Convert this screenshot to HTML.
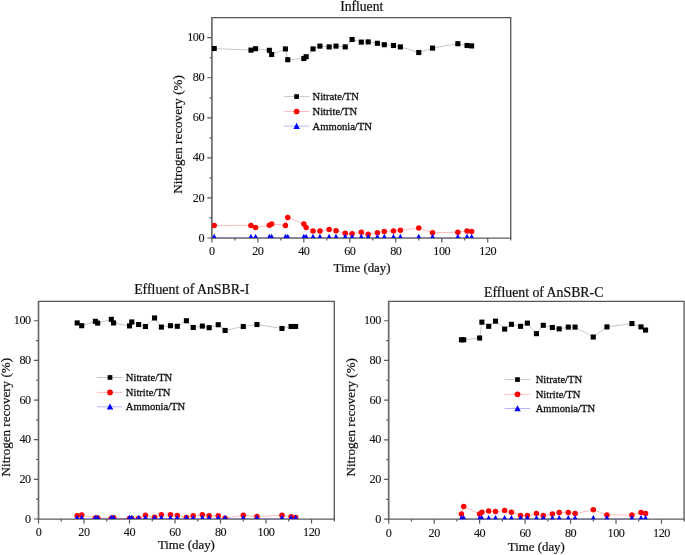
<!DOCTYPE html>
<html><head><meta charset="utf-8"><title>Nitrogen recovery</title>
<style>
html,body{margin:0;padding:0;background:#fff;}
body{width:685px;height:555px;overflow:hidden;font-family:"Liberation Serif",serif;}
svg{display:block;filter:blur(0.3px);}
text{font-variant-ligatures:none;font-family:"Liberation Serif",serif;fill:#111;stroke:#111;stroke-width:0.22px;}
.tk{font-size:12.2px;letter-spacing:-0.45px;stroke-width:0.12px;}
.ti{font-size:13.6px;}
.lb{font-size:13.1px;}
.lg{font-size:10.6px;stroke-width:0.3px;}
</style></head><body>
<svg width="685" height="555" viewBox="0 0 685 555">
<defs><clipPath id="c0"><rect x="211.9" y="17.6" width="298.8" height="220.4"/></clipPath><clipPath id="c1"><rect x="38.5" y="301.4" width="295.8" height="217.6"/></clipPath><clipPath id="c2"><rect x="388.7" y="301.4" width="295.5" height="217.75"/></clipPath></defs>
<rect width="685" height="555" fill="#fff"/>
<g><path d="M211.9 17.6H511.3" fill="none" stroke="#555" stroke-width="1.3"/>
<path d="M510.7 17.6V238" fill="none" stroke="#585858" stroke-width="1.35"/>
<path d="M211.9 17V238.6" fill="none" stroke="#6a6a6a" stroke-width="1.7"/>
<path d="M211.9 238H511.3" fill="none" stroke="#5c5c5c" stroke-width="1.25"/>
<path d="M211.9 238v4.6M234.88 238v2.4M257.87 238v4.6M280.85 238v2.4M303.84 238v4.6M326.82 238v2.4M349.81 238v4.6M372.79 238v2.4M395.78 238v4.6M418.76 238v2.4M441.75 238v4.6M464.73 238v2.4M487.72 238v4.6M510.7 238v2.4M211.9 238h-4.6M211.9 217.97h-2.4M211.9 197.94h-4.6M211.9 177.91h-2.4M211.9 157.88h-4.6M211.9 137.85h-2.4M211.9 117.82h-4.6M211.9 97.79h-2.4M211.9 77.76h-4.6M211.9 57.73h-2.4M211.9 37.7h-4.6" stroke="#585858" stroke-width="1.2" fill="none"/>
<g clip-path="url(#c0)"><polyline points="214.2,48.52 250.97,50.12 255.57,48.72 269.36,50.32 271.66,54.53 285.45,48.92 287.75,59.73 303.84,58.53 306.14,56.73 313.03,48.92 319.93,46.11 329.12,46.91 336.02,46.11 345.21,46.91 352.11,39.5 361.3,42.11 368.2,41.91 377.39,43.31 384.28,44.71 393.48,45.51 400.37,46.91 418.76,52.52 432.55,48.12 457.84,43.71 467.03,45.51 471.63,45.91" fill="none" stroke="#000" stroke-width="0.7" stroke-opacity="0.32"/>
<rect x="211.65" y="45.97" width="5.1" height="5.1"/><rect x="248.42" y="47.57" width="5.1" height="5.1"/><rect x="253.02" y="46.17" width="5.1" height="5.1"/><rect x="266.81" y="47.77" width="5.1" height="5.1"/><rect x="269.11" y="51.98" width="5.1" height="5.1"/><rect x="282.9" y="46.37" width="5.1" height="5.1"/><rect x="285.2" y="57.18" width="5.1" height="5.1"/><rect x="301.29" y="55.98" width="5.1" height="5.1"/><rect x="303.59" y="54.18" width="5.1" height="5.1"/><rect x="310.48" y="46.37" width="5.1" height="5.1"/><rect x="317.38" y="43.56" width="5.1" height="5.1"/><rect x="326.57" y="44.36" width="5.1" height="5.1"/><rect x="333.47" y="43.56" width="5.1" height="5.1"/><rect x="342.66" y="44.36" width="5.1" height="5.1"/><rect x="349.56" y="36.95" width="5.1" height="5.1"/><rect x="358.75" y="39.56" width="5.1" height="5.1"/><rect x="365.65" y="39.36" width="5.1" height="5.1"/><rect x="374.84" y="40.76" width="5.1" height="5.1"/><rect x="381.73" y="42.16" width="5.1" height="5.1"/><rect x="390.93" y="42.96" width="5.1" height="5.1"/><rect x="397.82" y="44.36" width="5.1" height="5.1"/><rect x="416.21" y="49.97" width="5.1" height="5.1"/><rect x="430" y="45.57" width="5.1" height="5.1"/><rect x="455.29" y="41.16" width="5.1" height="5.1"/><rect x="464.48" y="42.96" width="5.1" height="5.1"/><rect x="469.08" y="43.36" width="5.1" height="5.1"/>
<polyline points="214.2,225.58 250.97,225.38 255.57,227.48 269.36,225.18 271.66,223.98 285.45,225.38 287.75,217.57 303.84,223.98 306.14,227.48 313.03,230.99 319.93,230.99 329.12,229.59 336.02,230.79 345.21,233.19 352.11,233.69 361.3,232.29 368.2,234.19 377.39,232.79 384.28,231.39 393.48,230.99 400.37,230.29 418.76,227.99 432.55,232.79 457.84,232.19 467.03,230.99 471.63,231.39" fill="none" stroke="#f00" stroke-width="0.7" stroke-opacity="0.38"/>
<g fill="#f00"><circle cx="214.2" cy="225.58" r="2.75"/><circle cx="250.97" cy="225.38" r="2.75"/><circle cx="255.57" cy="227.48" r="2.75"/><circle cx="269.36" cy="225.18" r="2.75"/><circle cx="271.66" cy="223.98" r="2.75"/><circle cx="285.45" cy="225.38" r="2.75"/><circle cx="287.75" cy="217.57" r="2.75"/><circle cx="303.84" cy="223.98" r="2.75"/><circle cx="306.14" cy="227.48" r="2.75"/><circle cx="313.03" cy="230.99" r="2.75"/><circle cx="319.93" cy="230.99" r="2.75"/><circle cx="329.12" cy="229.59" r="2.75"/><circle cx="336.02" cy="230.79" r="2.75"/><circle cx="345.21" cy="233.19" r="2.75"/><circle cx="352.11" cy="233.69" r="2.75"/><circle cx="361.3" cy="232.29" r="2.75"/><circle cx="368.2" cy="234.19" r="2.75"/><circle cx="377.39" cy="232.79" r="2.75"/><circle cx="384.28" cy="231.39" r="2.75"/><circle cx="393.48" cy="230.99" r="2.75"/><circle cx="400.37" cy="230.29" r="2.75"/><circle cx="418.76" cy="227.99" r="2.75"/><circle cx="432.55" cy="232.79" r="2.75"/><circle cx="457.84" cy="232.19" r="2.75"/><circle cx="467.03" cy="230.99" r="2.75"/><circle cx="471.63" cy="231.39" r="2.75"/></g>
<polyline points="214.2,237.84 250.97,237.84 255.57,237.84 269.36,237.84 271.66,237.84 285.45,237.84 287.75,237.84 303.84,237.84 306.14,237.84 313.03,237.84 319.93,237.84 329.12,237.84 336.02,237.84 345.21,237.84 352.11,237.84 361.3,237.84 368.2,237.84 377.39,237.84 384.28,237.84 393.48,237.84 400.37,237.84 418.76,237.84 432.55,237.84 457.84,237.84 467.03,237.84 471.63,237.84" fill="none" stroke="#00f" stroke-width="0.7" stroke-opacity="0.42"/>
<path fill="#00f" d="M211 239.84h6.4l-3.2 -6zM247.77 239.84h6.4l-3.2 -6zM252.37 239.84h6.4l-3.2 -6zM266.16 239.84h6.4l-3.2 -6zM268.46 239.84h6.4l-3.2 -6zM282.25 239.84h6.4l-3.2 -6zM284.55 239.84h6.4l-3.2 -6zM300.64 239.84h6.4l-3.2 -6zM302.94 239.84h6.4l-3.2 -6zM309.83 239.84h6.4l-3.2 -6zM316.73 239.84h6.4l-3.2 -6zM325.92 239.84h6.4l-3.2 -6zM332.82 239.84h6.4l-3.2 -6zM342.01 239.84h6.4l-3.2 -6zM348.91 239.84h6.4l-3.2 -6zM358.1 239.84h6.4l-3.2 -6zM365 239.84h6.4l-3.2 -6zM374.19 239.84h6.4l-3.2 -6zM381.08 239.84h6.4l-3.2 -6zM390.28 239.84h6.4l-3.2 -6zM397.17 239.84h6.4l-3.2 -6zM415.56 239.84h6.4l-3.2 -6zM429.35 239.84h6.4l-3.2 -6zM454.64 239.84h6.4l-3.2 -6zM463.83 239.84h6.4l-3.2 -6zM468.43 239.84h6.4l-3.2 -6z"/></g>
<text class="tk" x="211.9" y="254.8" text-anchor="middle">0</text>
<text class="tk" x="257.87" y="254.8" text-anchor="middle">20</text>
<text class="tk" x="303.84" y="254.8" text-anchor="middle">40</text>
<text class="tk" x="349.81" y="254.8" text-anchor="middle">60</text>
<text class="tk" x="395.78" y="254.8" text-anchor="middle">80</text>
<text class="tk" x="441.75" y="254.8" text-anchor="middle">100</text>
<text class="tk" x="487.72" y="254.8" text-anchor="middle">120</text>
<text class="tk" x="204.1" y="241.6" text-anchor="end">0</text>
<text class="tk" x="204.1" y="201.54" text-anchor="end">20</text>
<text class="tk" x="204.1" y="161.48" text-anchor="end">40</text>
<text class="tk" x="204.1" y="121.42" text-anchor="end">60</text>
<text class="tk" x="204.1" y="81.36" text-anchor="end">80</text>
<text class="tk" x="204.1" y="41.3" text-anchor="end">100</text>
<text class="ti" style="font-size:13.6px" x="361.7" y="10.7" text-anchor="middle">Influent</text>
<text class="lb" style="font-size:12.85px" x="362" y="271.7" text-anchor="middle">Time (day)</text>
<text class="lb" transform="translate(182.1 134.5) rotate(-90)" text-anchor="middle">Nitrogen recovery (%)</text>
<path d="M283.7 96.6H309.4" stroke="#000" stroke-width="0.7" stroke-opacity="0.32"/>
<rect x="294.25" y="94.25" width="4.7" height="4.7"/>
<text class="lg" x="312.5" y="100.1">Nitrate/TN</text>
<path d="M283.7 111.5H309.4" stroke="#f00" stroke-width="0.7" stroke-opacity="0.38"/>
<circle cx="296.6" cy="111.5" r="2.85" fill="#f00"/>
<text class="lg" x="312.5" y="115">Nitrite/TN</text>
<path d="M283.7 126.1H309.4" stroke="#00f" stroke-width="0.7" stroke-opacity="0.42"/>
<path d="M293.35 128.88h6.5l-3.25 -6.1z" fill="#00f"/>
<text class="lg" x="312.5" y="129.6">Ammonia/TN</text></g>
<g><path d="M38.5 301.4H334.9" fill="none" stroke="#555" stroke-width="1.3"/>
<path d="M334.3 301.4V519" fill="none" stroke="#585858" stroke-width="1.35"/>
<path d="M38.5 300.8V519.6" fill="none" stroke="#6a6a6a" stroke-width="1.7"/>
<path d="M38.5 519H334.9" fill="none" stroke="#5c5c5c" stroke-width="1.25"/>
<path d="M38.5 519v4.6M61.25 519v2.4M84.01 519v4.6M106.76 519v2.4M129.52 519v4.6M152.27 519v2.4M175.02 519v4.6M197.78 519v2.4M220.53 519v4.6M243.28 519v2.4M266.04 519v4.6M288.79 519v2.4M311.55 519v4.6M334.3 519v2.4M38.5 519h-4.6M38.5 499.18h-2.4M38.5 479.35h-4.6M38.5 459.52h-2.4M38.5 439.7h-4.6M38.5 419.88h-2.4M38.5 400.05h-4.6M38.5 380.23h-2.4M38.5 360.4h-4.6M38.5 340.58h-2.4M38.5 320.75h-4.6" stroke="#585858" stroke-width="1.2" fill="none"/>
<g clip-path="url(#c1)"><polyline points="77.18,322.93 81.73,325.71 95.38,321.34 97.66,323.13 111.31,319.36 113.59,322.93 129.52,325.9 131.79,321.94 138.62,324.52 145.44,326.5 154.54,317.97 161.37,327.09 170.47,325.71 177.3,326.3 186.4,320.75 193.23,327.49 202.33,326.1 209.15,327.69 218.26,324.72 225.08,330.46 243.28,326.5 256.94,324.52 281.97,328.48 291.07,326.5 295.62,326.5" fill="none" stroke="#000" stroke-width="0.7" stroke-opacity="0.32"/>
<rect x="74.63" y="320.38" width="5.1" height="5.1"/><rect x="79.18" y="323.16" width="5.1" height="5.1"/><rect x="92.83" y="318.79" width="5.1" height="5.1"/><rect x="95.11" y="320.58" width="5.1" height="5.1"/><rect x="108.76" y="316.81" width="5.1" height="5.1"/><rect x="111.04" y="320.38" width="5.1" height="5.1"/><rect x="126.97" y="323.35" width="5.1" height="5.1"/><rect x="129.24" y="319.39" width="5.1" height="5.1"/><rect x="136.07" y="321.97" width="5.1" height="5.1"/><rect x="142.89" y="323.95" width="5.1" height="5.1"/><rect x="151.99" y="315.42" width="5.1" height="5.1"/><rect x="158.82" y="324.54" width="5.1" height="5.1"/><rect x="167.92" y="323.16" width="5.1" height="5.1"/><rect x="174.75" y="323.75" width="5.1" height="5.1"/><rect x="183.85" y="318.2" width="5.1" height="5.1"/><rect x="190.68" y="324.94" width="5.1" height="5.1"/><rect x="199.78" y="323.55" width="5.1" height="5.1"/><rect x="206.6" y="325.14" width="5.1" height="5.1"/><rect x="215.71" y="322.17" width="5.1" height="5.1"/><rect x="222.53" y="327.91" width="5.1" height="5.1"/><rect x="240.73" y="323.95" width="5.1" height="5.1"/><rect x="254.39" y="321.97" width="5.1" height="5.1"/><rect x="279.42" y="325.93" width="5.1" height="5.1"/><rect x="288.52" y="323.95" width="5.1" height="5.1"/><rect x="293.07" y="323.95" width="5.1" height="5.1"/>
<polyline points="77.18,515.63 81.73,515.03 95.38,518.01 97.66,518.01 111.31,518.21 113.59,517.81 129.52,518.6 131.79,518.6 138.62,518.41 145.44,515.23 154.54,517.22 161.37,514.64 170.47,514.84 177.3,515.43 186.4,517.61 193.23,515.83 202.33,514.64 209.15,515.83 218.26,515.83 225.08,518.21 243.28,515.23 256.94,516.62 281.97,515.23 291.07,516.82 295.62,517.41" fill="none" stroke="#f00" stroke-width="0.7" stroke-opacity="0.38"/>
<g fill="#f00"><circle cx="77.18" cy="515.63" r="2.75"/><circle cx="81.73" cy="515.03" r="2.75"/><circle cx="95.38" cy="518.01" r="2.75"/><circle cx="97.66" cy="518.01" r="2.75"/><circle cx="111.31" cy="518.21" r="2.75"/><circle cx="113.59" cy="517.81" r="2.75"/><circle cx="129.52" cy="518.6" r="2.75"/><circle cx="131.79" cy="518.6" r="2.75"/><circle cx="138.62" cy="518.41" r="2.75"/><circle cx="145.44" cy="515.23" r="2.75"/><circle cx="154.54" cy="517.22" r="2.75"/><circle cx="161.37" cy="514.64" r="2.75"/><circle cx="170.47" cy="514.84" r="2.75"/><circle cx="177.3" cy="515.43" r="2.75"/><circle cx="186.4" cy="517.61" r="2.75"/><circle cx="193.23" cy="515.83" r="2.75"/><circle cx="202.33" cy="514.64" r="2.75"/><circle cx="209.15" cy="515.83" r="2.75"/><circle cx="218.26" cy="515.83" r="2.75"/><circle cx="225.08" cy="518.21" r="2.75"/><circle cx="243.28" cy="515.23" r="2.75"/><circle cx="256.94" cy="516.62" r="2.75"/><circle cx="281.97" cy="515.23" r="2.75"/><circle cx="291.07" cy="516.82" r="2.75"/><circle cx="295.62" cy="517.41" r="2.75"/></g>
<polyline points="77.18,518.84 81.73,518.84 95.38,518.84 97.66,518.84 111.31,518.84 113.59,518.84 129.52,518.84 131.79,518.84 138.62,518.84 145.44,518.84 154.54,518.84 161.37,518.84 170.47,518.84 177.3,518.84 186.4,518.84 193.23,518.84 202.33,518.84 209.15,518.84 218.26,518.84 225.08,518.84 243.28,518.84 256.94,518.84 281.97,518.84 291.07,518.84 295.62,518.84" fill="none" stroke="#00f" stroke-width="0.7" stroke-opacity="0.42"/>
<path fill="#00f" d="M73.98 520.84h6.4l-3.2 -6zM78.53 520.84h6.4l-3.2 -6zM92.18 520.84h6.4l-3.2 -6zM94.46 520.84h6.4l-3.2 -6zM108.11 520.84h6.4l-3.2 -6zM110.39 520.84h6.4l-3.2 -6zM126.32 520.84h6.4l-3.2 -6zM128.59 520.84h6.4l-3.2 -6zM135.42 520.84h6.4l-3.2 -6zM142.24 520.84h6.4l-3.2 -6zM151.34 520.84h6.4l-3.2 -6zM158.17 520.84h6.4l-3.2 -6zM167.27 520.84h6.4l-3.2 -6zM174.1 520.84h6.4l-3.2 -6zM183.2 520.84h6.4l-3.2 -6zM190.03 520.84h6.4l-3.2 -6zM199.13 520.84h6.4l-3.2 -6zM205.95 520.84h6.4l-3.2 -6zM215.06 520.84h6.4l-3.2 -6zM221.88 520.84h6.4l-3.2 -6zM240.08 520.84h6.4l-3.2 -6zM253.74 520.84h6.4l-3.2 -6zM278.77 520.84h6.4l-3.2 -6zM287.87 520.84h6.4l-3.2 -6zM292.42 520.84h6.4l-3.2 -6z"/></g>
<text class="tk" x="38.5" y="536.3" text-anchor="middle">0</text>
<text class="tk" x="84.01" y="536.3" text-anchor="middle">20</text>
<text class="tk" x="129.52" y="536.3" text-anchor="middle">40</text>
<text class="tk" x="175.02" y="536.3" text-anchor="middle">60</text>
<text class="tk" x="220.53" y="536.3" text-anchor="middle">80</text>
<text class="tk" x="266.04" y="536.3" text-anchor="middle">100</text>
<text class="tk" x="311.55" y="536.3" text-anchor="middle">120</text>
<text class="tk" x="30.7" y="522.6" text-anchor="end">0</text>
<text class="tk" x="30.7" y="482.95" text-anchor="end">20</text>
<text class="tk" x="30.7" y="443.3" text-anchor="end">40</text>
<text class="tk" x="30.7" y="403.65" text-anchor="end">60</text>
<text class="tk" x="30.7" y="364" text-anchor="end">80</text>
<text class="tk" x="30.7" y="324.35" text-anchor="end">100</text>
<text class="ti" style="font-size:13.85px" x="191.7" y="293.6" text-anchor="middle">Effluent of AnSBR-I</text>
<text class="lb" style="font-size:12.85px" x="186.4" y="548.5" text-anchor="middle">Time (day)</text>
<text class="lb" transform="translate(10.3 417.2) rotate(-90)" text-anchor="middle">Nitrogen recovery (%)</text>
<path d="M96.9 377.5H122.3" stroke="#000" stroke-width="0.7" stroke-opacity="0.32"/>
<rect x="107.65" y="375.15" width="4.7" height="4.7"/>
<text class="lg" x="125.8" y="381">Nitrate/TN</text>
<path d="M96.9 392.4H122.3" stroke="#f00" stroke-width="0.7" stroke-opacity="0.38"/>
<circle cx="110" cy="392.4" r="2.85" fill="#f00"/>
<text class="lg" x="125.8" y="395.9">Nitrite/TN</text>
<path d="M96.9 406.8H122.3" stroke="#00f" stroke-width="0.7" stroke-opacity="0.42"/>
<path d="M106.75 409.58h6.5l-3.25 -6.1z" fill="#00f"/>
<text class="lg" x="125.8" y="410.3">Ammonia/TN</text></g>
<g><path d="M388.7 301.4H684.8" fill="none" stroke="#555" stroke-width="1.3"/>
<path d="M684.2 301.4V519.15" fill="none" stroke="#858585" stroke-width="2.0"/>
<path d="M388.7 300.8V519.75" fill="none" stroke="#6a6a6a" stroke-width="1.7"/>
<path d="M388.7 519.15H684.8" fill="none" stroke="#5c5c5c" stroke-width="1.25"/>
<path d="M388.7 519.15v4.6M411.43 519.15v2.4M434.16 519.15v4.6M456.89 519.15v2.4M479.62 519.15v4.6M502.35 519.15v2.4M525.08 519.15v4.6M547.82 519.15v2.4M570.55 519.15v4.6M593.28 519.15v2.4M616.01 519.15v4.6M638.74 519.15v2.4M661.47 519.15v4.6M684.2 519.15v2.4M388.7 519.15h-4.6M388.7 499.31h-2.4M388.7 479.47h-4.6M388.7 459.63h-2.4M388.7 439.79h-4.6M388.7 419.95h-2.4M388.7 400.11h-4.6M388.7 380.27h-2.4M388.7 360.43h-4.6M388.7 340.59h-2.4M388.7 320.75h-4.6" stroke="#585858" stroke-width="1.2" fill="none"/>
<g clip-path="url(#c2)"><polyline points="461.44,339.8 463.71,339.8 479.62,338.01 481.9,322.14 488.72,326.31 495.53,321.15 504.63,329.08 511.45,324.32 520.54,326.31 527.36,323.13 536.45,333.65 543.27,325.31 552.36,327.5 559.18,328.88 568.27,327.1 575.09,327.1 593.28,337.02 606.92,326.9 631.92,323.53 641.01,326.9 645.56,330.07" fill="none" stroke="#000" stroke-width="0.7" stroke-opacity="0.32"/>
<rect x="458.89" y="337.25" width="5.1" height="5.1"/><rect x="461.16" y="337.25" width="5.1" height="5.1"/><rect x="477.07" y="335.46" width="5.1" height="5.1"/><rect x="479.35" y="319.59" width="5.1" height="5.1"/><rect x="486.17" y="323.76" width="5.1" height="5.1"/><rect x="492.98" y="318.6" width="5.1" height="5.1"/><rect x="502.08" y="326.53" width="5.1" height="5.1"/><rect x="508.9" y="321.77" width="5.1" height="5.1"/><rect x="517.99" y="323.76" width="5.1" height="5.1"/><rect x="524.81" y="320.58" width="5.1" height="5.1"/><rect x="533.9" y="331.1" width="5.1" height="5.1"/><rect x="540.72" y="322.76" width="5.1" height="5.1"/><rect x="549.81" y="324.95" width="5.1" height="5.1"/><rect x="556.63" y="326.33" width="5.1" height="5.1"/><rect x="565.72" y="324.55" width="5.1" height="5.1"/><rect x="572.54" y="324.55" width="5.1" height="5.1"/><rect x="590.73" y="334.47" width="5.1" height="5.1"/><rect x="604.37" y="324.35" width="5.1" height="5.1"/><rect x="629.37" y="320.98" width="5.1" height="5.1"/><rect x="638.46" y="324.35" width="5.1" height="5.1"/><rect x="643.01" y="327.52" width="5.1" height="5.1"/>
<polyline points="461.44,513.99 463.71,506.45 479.62,513.99 481.9,512.21 488.72,511.02 495.53,511.61 504.63,510.62 511.45,512.21 520.54,515.58 527.36,515.58 536.45,513.59 543.27,515.58 552.36,513.99 559.18,512.6 568.27,512.6 575.09,513.59 593.28,509.83 606.92,514.98 631.92,514.98 641.01,512.6 645.56,513.59" fill="none" stroke="#f00" stroke-width="0.7" stroke-opacity="0.38"/>
<g fill="#f00"><circle cx="461.44" cy="513.99" r="2.75"/><circle cx="463.71" cy="506.45" r="2.75"/><circle cx="479.62" cy="513.99" r="2.75"/><circle cx="481.9" cy="512.21" r="2.75"/><circle cx="488.72" cy="511.02" r="2.75"/><circle cx="495.53" cy="511.61" r="2.75"/><circle cx="504.63" cy="510.62" r="2.75"/><circle cx="511.45" cy="512.21" r="2.75"/><circle cx="520.54" cy="515.58" r="2.75"/><circle cx="527.36" cy="515.58" r="2.75"/><circle cx="536.45" cy="513.59" r="2.75"/><circle cx="543.27" cy="515.58" r="2.75"/><circle cx="552.36" cy="513.99" r="2.75"/><circle cx="559.18" cy="512.6" r="2.75"/><circle cx="568.27" cy="512.6" r="2.75"/><circle cx="575.09" cy="513.59" r="2.75"/><circle cx="593.28" cy="509.83" r="2.75"/><circle cx="606.92" cy="514.98" r="2.75"/><circle cx="631.92" cy="514.98" r="2.75"/><circle cx="641.01" cy="512.6" r="2.75"/><circle cx="645.56" cy="513.59" r="2.75"/></g>
<polyline points="461.44,518.99 463.71,518.99 479.62,518.99 481.9,518.99 488.72,518.99 495.53,518.99 504.63,518.99 511.45,518.99 520.54,518.99 527.36,518.99 536.45,518.99 543.27,518.99 552.36,518.99 559.18,518.99 568.27,518.99 575.09,518.99 593.28,518.99 606.92,518.99 631.92,518.99 641.01,518.99 645.56,518.99" fill="none" stroke="#00f" stroke-width="0.7" stroke-opacity="0.42"/>
<path fill="#00f" d="M458.24 520.99h6.4l-3.2 -6zM460.51 520.99h6.4l-3.2 -6zM476.42 520.99h6.4l-3.2 -6zM478.7 520.99h6.4l-3.2 -6zM485.52 520.99h6.4l-3.2 -6zM492.33 520.99h6.4l-3.2 -6zM501.43 520.99h6.4l-3.2 -6zM508.25 520.99h6.4l-3.2 -6zM517.34 520.99h6.4l-3.2 -6zM524.16 520.99h6.4l-3.2 -6zM533.25 520.99h6.4l-3.2 -6zM540.07 520.99h6.4l-3.2 -6zM549.16 520.99h6.4l-3.2 -6zM555.98 520.99h6.4l-3.2 -6zM565.07 520.99h6.4l-3.2 -6zM571.89 520.99h6.4l-3.2 -6zM590.08 520.99h6.4l-3.2 -6zM603.72 520.99h6.4l-3.2 -6zM628.72 520.99h6.4l-3.2 -6zM637.81 520.99h6.4l-3.2 -6zM642.36 520.99h6.4l-3.2 -6z"/></g>
<text class="tk" x="388.7" y="536.55" text-anchor="middle">0</text>
<text class="tk" x="434.16" y="536.55" text-anchor="middle">20</text>
<text class="tk" x="479.62" y="536.55" text-anchor="middle">40</text>
<text class="tk" x="525.08" y="536.55" text-anchor="middle">60</text>
<text class="tk" x="570.55" y="536.55" text-anchor="middle">80</text>
<text class="tk" x="616.01" y="536.55" text-anchor="middle">100</text>
<text class="tk" x="661.47" y="536.55" text-anchor="middle">120</text>
<text class="tk" x="380.9" y="522.75" text-anchor="end">0</text>
<text class="tk" x="380.9" y="483.07" text-anchor="end">20</text>
<text class="tk" x="380.9" y="443.39" text-anchor="end">40</text>
<text class="tk" x="380.9" y="403.71" text-anchor="end">60</text>
<text class="tk" x="380.9" y="364.03" text-anchor="end">80</text>
<text class="tk" x="380.9" y="324.35" text-anchor="end">100</text>
<text class="ti" style="font-size:13.8px" x="543.7" y="296.6" text-anchor="middle">Effluent of AnSBR-C</text>
<text class="lb" style="font-size:12.85px" x="536.3" y="551.4" text-anchor="middle">Time (day)</text>
<text class="lb" transform="translate(355.4 417.3) rotate(-90)" text-anchor="middle">Nitrogen recovery (%)</text>
<path d="M504.5 379.6H530.3" stroke="#000" stroke-width="0.7" stroke-opacity="0.32"/>
<rect x="515.15" y="377.25" width="4.7" height="4.7"/>
<text class="lg" x="535.7" y="383.1">Nitrate/TN</text>
<path d="M504.5 394.3H530.3" stroke="#f00" stroke-width="0.7" stroke-opacity="0.38"/>
<circle cx="517.5" cy="394.3" r="2.85" fill="#f00"/>
<text class="lg" x="535.7" y="397.8">Nitrite/TN</text>
<path d="M504.5 408.5H530.3" stroke="#00f" stroke-width="0.7" stroke-opacity="0.42"/>
<path d="M514.25 411.28h6.5l-3.25 -6.1z" fill="#00f"/>
<text class="lg" x="535.7" y="412">Ammonia/TN</text></g>
</svg>
</body></html>
